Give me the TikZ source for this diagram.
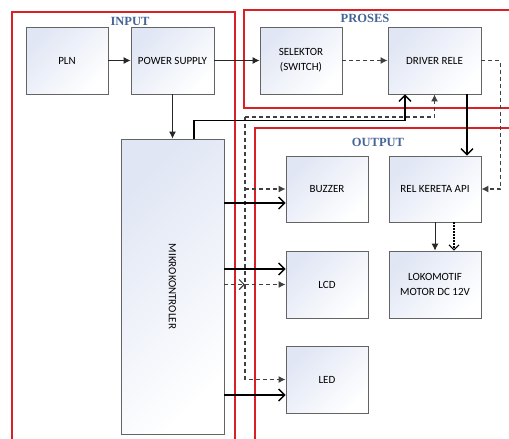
\documentclass[tikz,border=0pt]{standalone}
\usepackage{fontspec}
\setmainfont{Carlito}
\newfontfamily\judulfont{Liberation Serif}
\usetikzlibrary{arrows.meta}
\definecolor{merah}{RGB}{218,32,36}
\definecolor{judulbiru}{RGB}{68,100,150}
\definecolor{blokatas}{RGB}{224,230,244}
\definecolor{garis}{RGB}{100,100,100}
\begin{document}
\begin{tikzpicture}[x=1pt,y=-1pt,
    blok/.style={draw=garis,line width=0.8pt,top color=blokatas,bottom color=white,
      shading angle=45,minimum height=67,inner sep=2pt,align=center,
      font=\fontsize{11}{15}\selectfont},
    bingkai/.style={draw=merah,line width=1.8pt},
    judul/.style={text=judulbiru,font=\judulfont\bfseries\fontsize{12.5}{14}\selectfont},
    tipis/.style={line width=0.9pt,draw=black!85,-{Latex[length=7pt,width=7pt]}},
    tebal/.style={line width=1.4pt,-{Straight Barb[length=6pt,width=12pt]}},
    putus/.style={line width=1.2pt,draw=black!75,dash pattern=on 4pt off 3pt},
  ]
  \useasboundingbox (0,0) rectangle (509,439);
  % bingkai
  \draw[bingkai] (12,12) rectangle (235,450);
  \draw[bingkai] (244,10) rectangle (520,108);
  \draw[bingkai] (255,128) rectangle (520,450);
  \draw
    (130,21) node[judul] (tinput){INPUT}
    (365,18) node[judul] (tproses){PROSES}
    (378,142) node[judul] (toutput){OUTPUT};
  % blok
  \draw
    (67,60.5) node[blok,minimum width=82] (pln){PLN}
    (172.5,60.5) node[blok,minimum width=83] (psu){POWER SUPPLY}
    (301,60.5) node[blok,minimum width=82] (sel){SELEKTOR\\(SWITCH)}
    (434.5,60.5) node[blok,minimum width=93] (drv){DRIVER RELE}
    (172.5,286.5) node[blok,minimum width=103,minimum height=295] (mik){}
    (327,189) node[blok,minimum width=82,minimum height=66] (buz){BUZZER}
    (435,189) node[blok,minimum width=92,minimum height=66] (rel){REL KERETA API}
    (327,284.5) node[blok,minimum width=82] (lcd){LCD}
    (435,284.5) node[blok,minimum width=92] (lok){LOKOMOTIF\\MOTOR DC 12V}
    (327,379.5) node[blok,minimum width=82] (led){LED};
  \node[rotate=-90,font=\fontsize{11}{15}\selectfont] (tmik) at (mik) {MIKROKONTROLER};
  \coordinate (bus) at (245,117);
  \coordinate (b1) at ([yshift=-14pt]buz.west);
  \coordinate (l1) at ([yshift=15.5pt]lcd.west);
  \coordinate (e1) at ([yshift=-15.5pt]led.west);
  \begin{scope}[tipis]
    \draw (pln) to (psu);
    \draw (psu) to (sel);
    \draw (psu) to (mik);
    \draw (rel) to (lok);
    \draw[putus] (sel) to (drv);
    \draw[putus] (bus) -| (drv.south);
    \draw[putus] (bus) |- (led.west);
    \draw[putus] (bus |- buz.west) to (buz.west);
    \draw[putus] (bus |- lcd.west) to (lcd.west);
    \draw[putus] (drv.east) -- ++(19,0) |- (rel.east);
  \end{scope}
  \begin{scope}[tebal]
    \draw (mik.east |- b1) to (b1);
    \draw (mik.east |- l1) to (l1);
    \draw (mik.east |- e1) to (e1);
    \draw ([xshift=21.5pt]mik.north) -- ++(0,-18) -| ([xshift=-29.5pt]drv.south);
    \draw ([xshift=32.5pt]drv.south) to ([xshift=32.5pt]drv.south |- rel.north);
    \draw[putus,-{Straight Barb[length=5pt,width=10pt]}] (mik.east |- lcd.west) to (bus |- lcd.west);
    \draw[line width=1.1pt,dash pattern=on 1.5pt off 1.5pt,-{Straight Barb[length=5pt,width=10pt]}]
      ([xshift=19pt]rel.south) to ([xshift=19pt]rel.south |- lok.north);
  \end{scope}
\end{tikzpicture}
\end{document}
